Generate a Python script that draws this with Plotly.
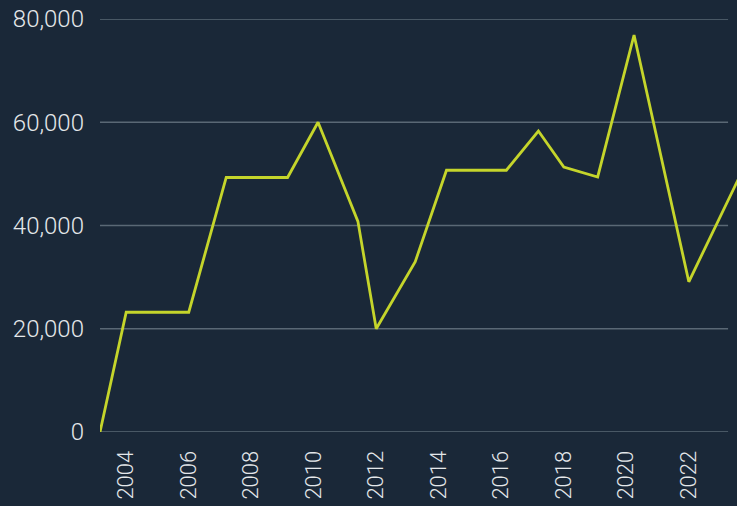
import plotly.graph_objects as go

# values
dates = [
    "2003-03-01", "2004-01-01", "2006-01-01", "2007-03-15", "2009-03-01",
    "2010-02-20", "2011-06-01", "2012-01-01", "2013-04-01", "2014-04-01",
    "2016-03-01", "2017-03-10", "2018-01-01", "2019-02-01", "2020-04-01",
    "2022-01-01", "2023-09-01",
]
values = [
    0, 23200, 23200, 49300, 49300,
    60000, 40800, 20000, 33000, 50700,
    50700, 58300, 51300, 49400, 76900,
    29100, 50000,
]
y_ticks = [0, 20000, 40000, 60000, 80000]
x_ticks = ["2004", "2006", "2008", "2010", "2012", "2014", "2016", "2018", "2020", "2022"]

BG = "#1a2838"
GRID = "#5a6875"
LINE = "#c5d52b"
TEXT = "#e4e7ea"
FONT = "Roboto"
y_font = dict(family=FONT, size=24, color=TEXT, weight=300)
x_font = dict(family=FONT, size=22, color=TEXT, weight=300)

fig = go.Figure()
fig.add_trace(
    go.Scatter(
        x=dates,
        y=values,
        mode="lines",
        line=dict(color=LINE, width=2.8),
        hoverinfo="skip",
    )
)

# gridlines drawn as shapes so they stop short of the right edge like the original
for v in y_ticks:
    fig.add_shape(
        type="line",
        xref="paper",
        yref="y",
        x0=0,
        x1=0.986,
        y0=v,
        y1=v,
        line=dict(color=GRID, width=1.5),
        layer="below",
    )

fig.update_layout(
    width=737,
    height=506,
    paper_bgcolor=BG,
    plot_bgcolor=BG,
    showlegend=False,
    margin=dict(l=100, r=0, t=19, b=74),
    font=y_font,
)
fig.update_xaxes(
    type="date",
    range=["2003-03-01", "2023-07-18"],
    tickvals=[f"{y}-01-01" for y in x_ticks],
    ticktext=x_ticks,
    tickangle=-90,
    showgrid=False,
    zeroline=False,
    showline=False,
    ticks="outside",
    ticklen=9,
    tickcolor=BG,
    tickfont=x_font,
)
fig.update_yaxes(
    range=[0, 80000],
    tickvals=y_ticks,
    ticktext=[f"{v:,}" for v in y_ticks],
    showgrid=False,
    zeroline=False,
    showline=False,
    ticklabelstandoff=15,
    tickfont=y_font,
)

fig.write_html(
    "out.html",
    config={"displayModeBar": False},
    post_script="document.body.style.margin='0';document.body.style.background='%s';" % BG,
)
